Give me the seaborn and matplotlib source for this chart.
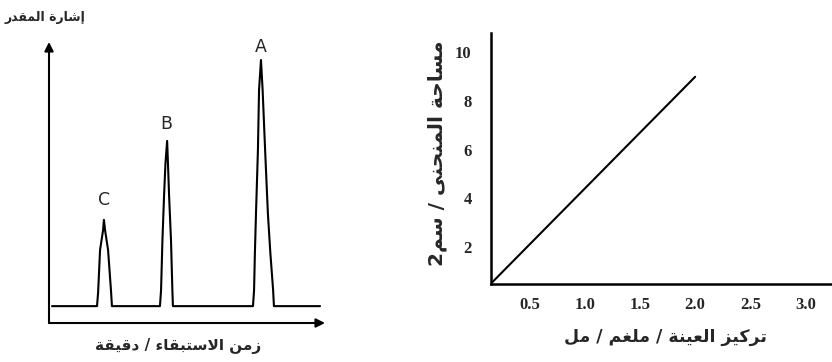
import re
import matplotlib
matplotlib.use("Agg")
import matplotlib.pyplot as plt
import seaborn as sns

# ---- data ----
# chromatogram (left): baseline + three peaks, vertices as (time, signal)
baseline_start = (0.11, 6.0)
baseline_end = (9.82, 6.0)
peak_c_time = [1.74, 1.78, 1.85, 1.96, 1.99, 2.03, 2.14, 2.25, 2.28]
peak_c_signal = [6.0, 11.0, 26.0, 33.1, 36.7, 33.1, 26.0, 11.0, 6.0]
peak_b_time = [4.02, 4.06, 4.11, 4.17, 4.22, 4.28, 4.31, 4.35, 4.42, 4.47, 4.49]
peak_b_signal = [6.0, 11.7, 29.5, 45.6, 56.9, 64.8, 56.9, 45.6, 29.5, 11.7, 6.0]
peak_a_time = [7.39, 7.43, 7.46, 7.50, 7.57, 7.61, 7.68, 7.74, 7.83, 7.93, 8.02, 8.12, 8.15]
peak_a_signal = [6.0, 11.7, 24.9, 39.1, 61.6, 82.9, 93.6, 82.9, 61.6, 39.1, 24.9, 11.7, 6.0]
peak_names = ["C", "B", "A"]
peak_label_time = [1.99, 4.24, 7.68]
peak_label_signal = [43.8, 70.8, 98.2]

# calibration line (right)
conc = [0.15, 2.0]
area = [0.5, 9.0]
x_ticks = [0.5, 1.0, 1.5, 2.0, 2.5, 3.0]
x_tick_labels = ["0.5", "1.0", "1.5", "2.0", "2.5", "3.0"]
y_ticks = [2, 4, 6, 8, 10]

title_left = "إشارة المقدر"
xlabel_left = "زمن الاستبقاء / دقيقة"
xlabel_right = "تركيز العينة / ملغم / مل"
ylabel_right = "مساحة المنحنى / سم2"


# ---- minimal arabic shaping (matplotlib has no bidi / joining) ----
FORMS = {'آ': 0xFE81, 'أ': 0xFE83, 'ؤ': 0xFE85, 'إ': 0xFE87, 'ئ': 0xFE89, 'ا': 0xFE8D,
         'ب': 0xFE8F, 'ة': 0xFE93, 'ت': 0xFE95, 'ث': 0xFE99, 'ج': 0xFE9D, 'ح': 0xFEA1,
         'خ': 0xFEA5, 'د': 0xFEA9, 'ذ': 0xFEAB, 'ر': 0xFEAD, 'ز': 0xFEAF, 'س': 0xFEB1,
         'ش': 0xFEB5, 'ص': 0xFEB9, 'ض': 0xFEBD, 'ط': 0xFEC1, 'ظ': 0xFEC5, 'ع': 0xFEC9,
         'غ': 0xFECD, 'ف': 0xFED1, 'ق': 0xFED5, 'ك': 0xFED9, 'ل': 0xFEDD, 'م': 0xFEE1,
         'ن': 0xFEE5, 'ه': 0xFEE9, 'و': 0xFEED, 'ى': 0xFEEF, 'ي': 0xFEF1, 'ء': 0xFE80}
DUAL = set("ئبتثجحخسشصضطظعغفقكلمنهي")
LAMALEF = {'آ': 0xFEF5, 'أ': 0xFEF7, 'إ': 0xFEF9, 'ا': 0xFEFB}


def shape(text):
    out = []
    i = 0
    n = len(text)
    while i < n:
        c = text[i]
        if c not in FORMS:
            out.append(c)
            i += 1
            continue
        prev_joins = i > 0 and text[i - 1] in DUAL
        if c == 'ل' and i + 1 < n and text[i + 1] in LAMALEF:
            out.append(chr(LAMALEF[text[i + 1]] + (1 if prev_joins else 0)))
            i += 2
            continue
        b = FORMS[c]
        if c == 'ء':
            f = b
        elif c in DUAL:
            nxt = i + 1 < n and text[i + 1] in FORMS
            if prev_joins and nxt:
                f = b + 3
            elif prev_joins:
                f = b + 1
            elif nxt:
                f = b + 2
            else:
                f = b
        else:
            f = b + 1 if prev_joins else b
        out.append(chr(f))
        i += 1
    vis = "".join(out)[::-1]
    return re.sub(r"[0-9.]+", lambda m: m.group(0)[::-1], vis)


sns.set_style("white")
plt.rcParams['font.family'] = ['DejaVu Sans']

W, H = 832, 362
fig = plt.figure(figsize=(W / 100, H / 100), dpi=100)

# ---- left: chromatogram ----
axL = fig.add_axes([49 / W, 1 - 323 / H, 276 / W, 281 / H])
t = [baseline_start[0]] + peak_c_time + peak_b_time + peak_a_time + [baseline_end[0]]
s = [baseline_start[1]] + peak_c_signal + peak_b_signal + peak_a_signal + [baseline_end[1]]
sns.lineplot(x=t, y=s, ax=axL, color="black", lw=1.5, estimator=None, sort=False)
axL.set_xlim(0, 10)
axL.set_ylim(0, 100)
axL.axis("off")
arrow = dict(arrowstyle="-|>", color="black", lw=1.5, mutation_scale=13,
             shrinkA=0, shrinkB=0)
axL.annotate("", xy=(0, 100), xytext=(0, 0), arrowprops=arrow, annotation_clip=False)
axL.annotate("", xy=(10, 0), xytext=(0, 0), arrowprops=arrow, annotation_clip=False)
for name, tx, sy in zip(peak_names, peak_label_time, peak_label_signal):
    axL.text(tx, sy, name, ha="center", va="center", fontsize=12.5)

fig.text(5 / W, 1 - 18 / H, shape(title_left), ha="left", va="center",
         fontsize=9, fontweight="bold")
fig.text(178 / W, 1 - 346 / H, shape(xlabel_left), ha="center", va="center",
         fontsize=11, fontweight="bold")

# ---- right: calibration curve ----
axR = fig.add_axes([491 / W, 1 - 284 / H, 341 / W, 251 / H])
sns.lineplot(x=conc, y=area, ax=axR, color="black", lw=1.5)
axR.set_xlim(0.15, 3.24)
axR.set_ylim(0.48, 10.8)
sns.despine(ax=axR)
for side in ["left", "bottom"]:
    axR.spines[side].set_linewidth(1.8)
    axR.spines[side].set_color("black")
axR.set_xticks(x_ticks)
axR.set_xticklabels(x_tick_labels)
axR.set_yticks(y_ticks)
axR.tick_params(axis="x", direction="inout", length=7, width=1.3, pad=6)
axR.tick_params(axis="y", direction="out", length=5, width=1.3, pad=9)
for lab in axR.get_xticklabels() + axR.get_yticklabels():
    lab.set_fontfamily("Liberation Serif")
    lab.set_fontweight("bold")
    lab.set_fontsize(12)
axR.set_xlabel("")
axR.set_ylabel("")

fig.text(665 / W, 1 - 337 / H, shape(xlabel_right), ha="center", va="center",
         fontsize=12.5, fontweight="bold")
fig.text(437 / W, 1 - 153 / H, shape(ylabel_right), ha="center", va="center",
         rotation=90, fontsize=14.5, fontweight="bold")

fig.savefig("out.png", dpi=100)
